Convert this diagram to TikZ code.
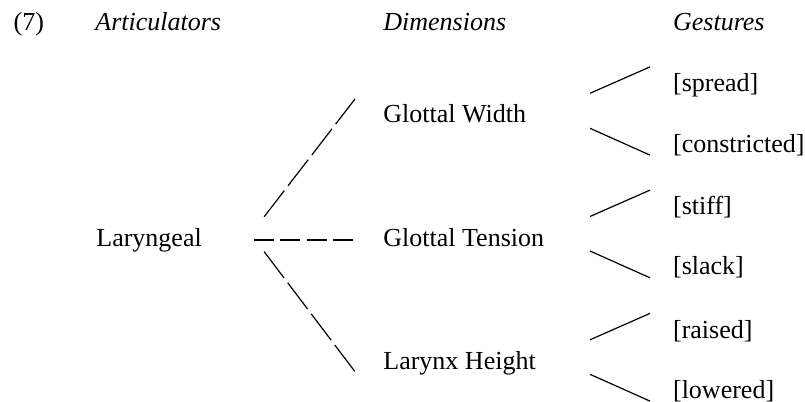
\documentclass[tikz,border=0pt]{standalone}
\usepackage{fontspec}
\setmainfont{Liberation Serif}
\usepackage{tikz}
\usetikzlibrary{positioning,calc}
\tikzset{
  lab/.style={anchor=base west,inner sep=0pt,font=\fontsize{13pt}{15pt}\selectfont},
  head/.style={lab,font=\fontsize{13pt}{15pt}\selectfont\itshape},
  dimline/.style={line width=0.6pt,dash pattern=on 16.5pt off 3pt},
  flatline/.style={line width=0.6pt,dash pattern=on 10pt off 3.15pt},
  gline/.style={line width=0.6pt},
}

\begin{document}
\begin{tikzpicture}[x=0.5pt,y=-0.5pt]
\useasboundingbox (0,0) rectangle (805,402);
% headings
\node[lab] (num) at (13.3,30.5) {(7)};
\node[head] (art) at (95,30.5) {Articulators};
\node[head] (dim) at (383,30.5) {Dimensions};
\node[head] (ges) at (672.7,30.5) {Gestures};
% tree
\node[lab] (lar) at (96,246) {Laryngeal};
\node[lab] (gw) at (383,122.7) {Glottal Width};
\node[lab] (gt) at (383,246.7) {Glottal Tension};
\node[lab] (lh) at (383,369.3) {Larynx Height};
\node[lab] (spread) at (672.7,91.5) {[spread]};
\node[lab] (constricted) at (672.7,152) {[constricted]};
\node[lab] (stiff) at (672.7,214.7) {[stiff]};
\node[lab] (slack) at (672.7,274.7) {[slack]};
\node[lab] (raised) at (672.7,338) {[raised]};
\node[lab] (lowered) at (672.7,398) {[lowered]};
\draw[dimline] ($(lar.base east)+(62,-29.3)$) -- ($(gw.base west)+(-28,-23.7)$);
\draw[flatline] ($(lar.base east)+(52,-6)$) -- ($(gt.base west)+(-30.3,-6.7)$);
\draw[dimline] ($(lar.base east)+(62,5.7)$) -- ($(lh.base west)+(-28,2.4)$);
\foreach \up/\dn in {spread/constricted,stiff/slack,raised/lowered}{
  \draw[gline] ($(\up.base west)+(-82.7,1.8)$) -- ++(60,-26.4);
  \draw[gline] ($(\dn.base west)+(-82.7,-23.7)$) -- ++(60,26.8);
}
\end{tikzpicture}
\end{document}
